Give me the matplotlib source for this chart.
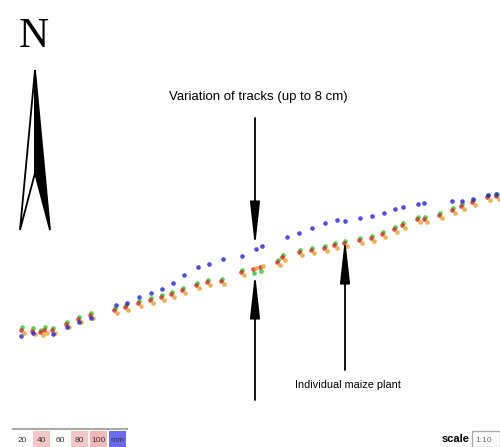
"""
Track variation map: maize plant positions recorded by four tracks,
with north arrow, colour legend strip and scale box.
"""

import matplotlib
matplotlib.use("Agg")
import matplotlib.pyplot as plt
from matplotlib.patches import Polygon, Rectangle

OUT_PATH = "out.png"

NARROW = ["Liberation Sans Narrow", "Liberation Sans", "DejaVu Sans"]
SERIF = ["Liberation Serif", "DejaVu Serif"]

# map coordinates (image pixels, y grows downwards)
blue_x = [21, 33, 53, 67, 79, 91, 116, 127, 139, 151, 162, 173, 184, 198, 209,
          223, 242, 256, 262, 287, 299, 312, 325, 337, 345, 360, 372, 384, 395,
          403, 418, 424, 452, 462, 473, 488, 496]
blue_y = [336, 333, 334, 327, 322, 318, 305, 303, 297, 293, 289, 283, 275, 267,
          264, 259, 256, 249, 246, 237, 233, 228, 223, 220, 221, 218, 216, 213,
          209, 207, 204, 203, 201, 201, 199, 195, 194]

red_x = [21, 32, 40, 44, 52, 66, 78, 90, 114, 125, 138, 150, 161, 171, 182, 196,
         207, 221, 241, 253, 260, 277, 282, 299, 311, 324, 334, 344, 359, 371,
         382, 394, 402, 417, 424, 439, 452, 461, 472, 487, 496]
red_y = [330, 331, 332, 330, 330, 324, 319, 315, 310, 307, 303, 300, 297, 294,
         290, 285, 282, 281, 272, 269, 267, 262, 257, 252, 250, 248, 245, 243,
         240, 238, 234, 229, 225, 219, 219, 215, 210, 206, 202, 197, 196]

green_x = [22, 33, 41, 45, 53, 67, 79, 91, 115, 126, 139, 151, 162, 172, 183,
           197, 208, 222, 242, 254, 261, 278, 283, 300, 312, 325, 335, 345, 360,
           372, 383, 395, 403, 418, 425, 440, 453, 462, 473, 488, 497]
green_y = [327, 328, 330, 327, 328, 322, 317, 313, 308, 305, 301, 298, 295, 292,
           288, 283, 280, 279, 270, 273, 271, 260, 255, 250, 248, 246, 243, 241,
           238, 236, 232, 227, 223, 217, 217, 213, 208, 204, 200, 195, 194]

orange_x = [24, 35, 43, 47, 55, 69, 81, 93, 117, 128, 141, 153, 164, 174, 185,
            199, 210, 224, 244, 256, 263, 280, 285, 302, 314, 327, 337, 347, 362,
            374, 385, 397, 405, 420, 427, 442, 455, 464, 475, 490, 499]
orange_y = [333, 334, 335, 333, 333, 327, 322, 318, 313, 310, 306, 303, 300,
            297, 293, 288, 285, 284, 275, 268, 266, 265, 260, 255, 253, 251, 248,
            246, 243, 241, 237, 232, 228, 222, 222, 218, 213, 209, 205, 200, 199]

legend_labels = ["20", "40", "60", "80", "100", "mm"]
legend_colors = ["white", "#f4c6c6", "white", "#f4c6c6", "#f0b8b8", "#6b6bf0"]

title_text = "Variation of tracks (up to 8 cm)"
plant_text = "Individual maize plant"
scale_text = "scale"
scale_value = "1:10"


def main():
    fig = plt.figure(figsize=(5.0, 4.47), dpi=100)
    ax = fig.add_axes([0, 0, 1, 1])
    ax.set_xlim(0, 500)
    ax.set_ylim(447, 0)
    ax.axis("off")

    # tracks
    for xs, ys, col in [(green_x, green_y, "#22cc22"),
                        (red_x, red_y, "#dd2222"),
                        (orange_x, orange_y, "#e8a020"),
                        (blue_x, blue_y, "#2222dd")]:
        ax.scatter(xs, ys, s=11, c=col, marker="o", linewidths=0, alpha=0.8,
                   zorder=3)

    # arrows (the head tip ends ~7 px short of xy)
    head = dict(arrowstyle="-|>,head_length=2.7,head_width=0.3",
                color="black", lw=1.3, mutation_scale=10,
                shrinkA=0, shrinkB=0)
    ax.annotate("", xy=(255, 247), xytext=(255, 118), arrowprops=head)
    ax.annotate("", xy=(255, 273), xytext=(255, 400), arrowprops=head)
    ax.annotate("", xy=(345, 238), xytext=(345, 370), arrowprops=head)

    ax.text(258, 97, title_text, ha="center", va="center", fontsize=9.5,
            family=NARROW)
    ax.text(348, 385, plant_text, ha="center", va="center", fontsize=7.8,
            family=NARROW)

    # north arrow
    ax.text(34, 37, "N", ha="center", va="center", fontsize=30, family=SERIF)
    ax.add_patch(Polygon([(35, 70), (20, 230), (35, 173)], closed=True,
                         facecolor="white", edgecolor="black", lw=1.3))
    ax.add_patch(Polygon([(35, 70), (35, 173), (50, 230)], closed=True,
                         facecolor="black", edgecolor="black", lw=1.3))

    # colour strip legend
    x0 = 13
    w = 19
    ax.plot([x0, x0 + w * len(legend_labels)], [429, 429], color="#aaaaaa",
            lw=1.5)
    for i, (lab, col) in enumerate(zip(legend_labels, legend_colors)):
        ax.add_patch(Rectangle((x0 + i * w + 1, 431), w - 2, 16,
                               facecolor=col, edgecolor="none"))
        ax.text(x0 + i * w + w / 2, 440, lab, ha="center", va="center",
                fontsize=6, family=NARROW, color="#333333")

    # scale box
    ax.text(456, 439, scale_text, ha="center", va="center", fontsize=8,
            family=NARROW, fontweight="bold")
    ax.add_patch(Rectangle((472, 431), 28, 16, facecolor="white",
                           edgecolor="#aaaaaa", lw=1))
    ax.text(484, 440, scale_value, ha="center", va="center", fontsize=6,
            family=NARROW, color="#666666")

    fig.savefig(OUT_PATH, dpi=100)


if __name__ == "__main__":
    main()
